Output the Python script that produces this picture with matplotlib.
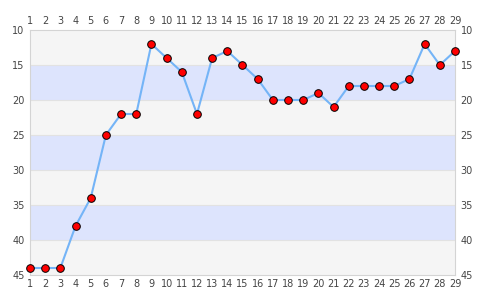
import matplotlib
matplotlib.use("Agg")
import matplotlib.pyplot as plt

# position per round
rounds = list(range(1, 30))
positions = [44, 44, 44, 38, 34, 25, 22, 22, 12, 14, 16, 22, 14, 13, 15,
             17, 20, 20, 20, 19, 21, 18, 18, 18, 18, 17, 12, 15, 13]
y_ticks = [10, 15, 20, 25, 30, 35, 40, 45]

band_gray = "#f5f5f5"
band_blue = "#dde4fd"
text_col = "#444444"

fig = plt.figure(figsize=(4.85, 3.0), dpi=100)
ax = fig.add_axes([30 / 485, 25 / 300, 425 / 485, 245 / 300])

# alternating horizontal bands
for i in range(len(y_ticks) - 1):
    col = band_gray if i % 2 == 0 else band_blue
    ax.axhspan(y_ticks[i], y_ticks[i + 1], color=col, lw=0, zorder=0)
for y in y_ticks[1:-1]:
    ax.axhline(y, color="#e2e2e2", lw=0.8, zorder=1)

ax.plot(rounds, positions, color="#74b4f7", lw=1.5, zorder=2)
ax.plot(rounds, positions, ls="none", marker="o", ms=5.5,
        mfc="#ff0000", mec="#000000", mew=0.7, zorder=3, clip_on=False)

ax.set_xlim(1, 29)
ax.set_ylim(45, 10)
ax.set_xticks(rounds)
ax.set_yticks(y_ticks)

ax.tick_params(axis="both", length=0, labelsize=7, colors=text_col, pad=4)
ax.tick_params(axis="x", top=True, labeltop=True, bottom=True, labelbottom=True, pad=3)
ax.tick_params(axis="y", left=True, labelleft=True, right=True, labelright=True)

for s in ax.spines.values():
    s.set_color("#d4d4d4")
    s.set_linewidth(0.8)

fig.savefig("out.png", dpi=100)
